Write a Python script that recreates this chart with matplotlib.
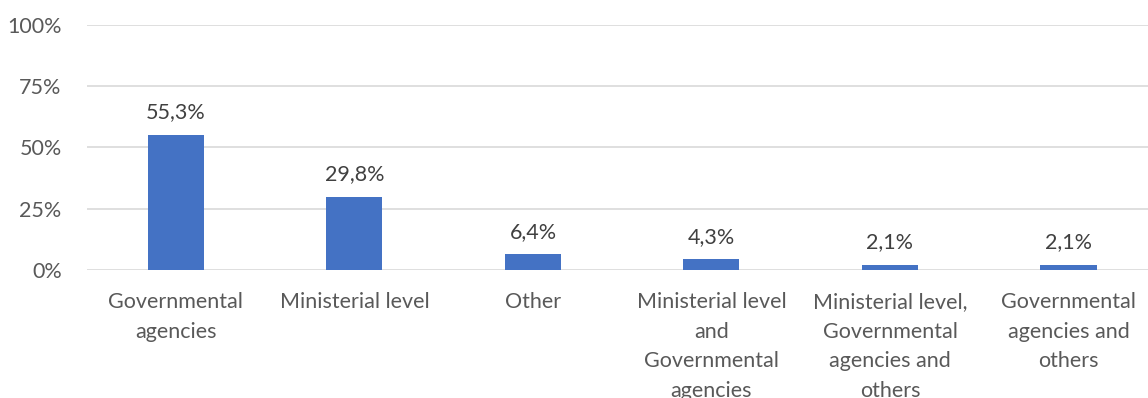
import matplotlib.pyplot as plt
from matplotlib.ticker import FuncFormatter

# survey shares by level of responsibility
categories = ['Governmental\nagencies', 'Ministerial level', 'Other',
              'Ministerial level\nand\nGovernmental\nagencies',
              'Ministerial level,\nGovernmental\nagencies and\nothers',
              'Governmental\nagencies and\nothers']
shares = [55.3, 29.8, 6.4, 4.3, 2.1, 2.1]
yticks = [0, 25, 50, 75, 100]

plt.rcParams['font.family'] = ['Lato', 'DejaVu Sans']
txt = '#595959'
fs = 15.5

fig = plt.figure(figsize=(11.48, 3.98), dpi=100)
ax = fig.add_axes([0.0755, 0.3216, 0.933, 0.6156])

x = range(len(shares))
ax.bar(x, shares, width=0.314, color='#4472C4', zorder=3)
for xi, v in zip(x, shares):
    ax.annotate(f'{v:.1f}%'.replace('.', ','), (xi, v), xytext=(0, 12),
                textcoords='offset points', ha='center', va='baseline',
                fontsize=fs, color='#404040')

ax.set_xlim(-0.5, len(shares) - 0.5)
ax.set_ylim(0, 100)
ax.set_yticks(yticks)
ax.yaxis.set_major_formatter(FuncFormatter(lambda v, p: f'{v:.0f}%'))
ax.set_xticks(list(x))
ax.set_xticklabels(categories, linespacing=1.6)
ax.tick_params(axis='both', length=0, labelsize=fs, colors=txt)
ax.tick_params(axis='y', pad=18)
ax.tick_params(axis='x', pad=16)
ax.grid(axis='y', color='#D9D9D9', linewidth=1.2, zorder=0)
for s in ax.spines.values():
    s.set_visible(False)

fig.savefig('out.png', dpi=100)
